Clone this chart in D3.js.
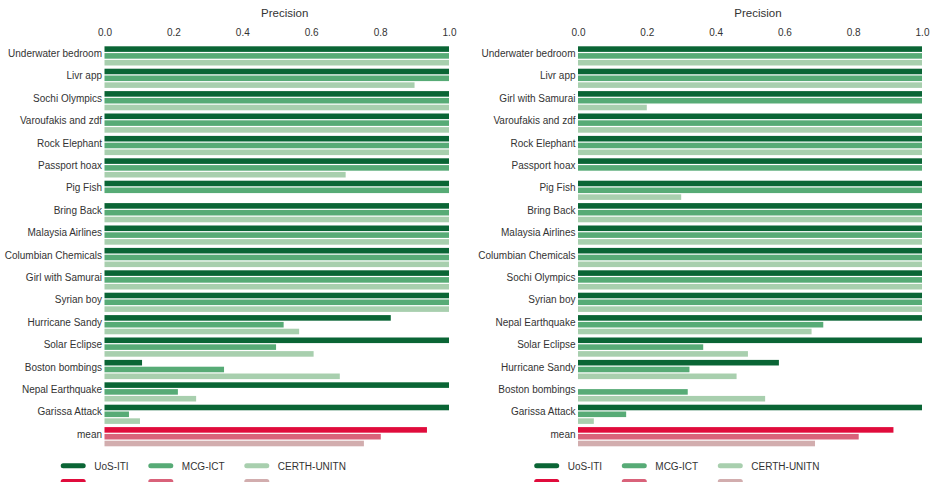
<!DOCTYPE html>
<html><head><meta charset="utf-8">
<script src="https://cdn.jsdelivr.net/npm/d3@7"></script>
<style>body{margin:0;background:#fff}svg{display:block}text{font-family:"Liberation Sans",Arial,sans-serif;fill:#333}</style>
</head><body><svg id="c" width="935" height="482"></svg>
<script>
const series = ["UoS-ITI", "MCG-ICT", "CERTH-UNITN"];
const xTicks = [0.0, 0.2, 0.4, 0.6, 0.8, 1.0];

const leftCats = ["Underwater bedroom","Livr app","Sochi Olympics","Varoufakis and zdf","Rock Elephant","Passport hoax","Pig Fish","Bring Back","Malaysia Airlines","Columbian Chemicals","Girl with Samurai","Syrian boy","Hurricane Sandy","Solar Eclipse","Boston bombings","Nepal Earthquake","Garissa Attack","mean"];
const leftUoS   = [1,1,1,1,1,1,1,1,1,1,1,1,0.831,1,0.109,1,1,0.936];
const leftMCG   = [1,1,1,1,1,1,1,1,1,1,1,1,0.520,0.498,0.347,0.213,0.071,0.802];
const leftCERTH = [1,0.9,1,1,1,0.7,0,1,1,1,1,1,0.565,0.607,0.683,0.266,0.103,0.753];

const rightCats = ["Underwater bedroom","Livr app","Girl with Samurai","Varoufakis and zdf","Rock Elephant","Passport hoax","Pig Fish","Bring Back","Malaysia Airlines","Columbian Chemicals","Sochi Olympics","Syrian boy","Nepal Earthquake","Solar Eclipse","Hurricane Sandy","Boston bombings","Garissa Attack","mean"];
const rightUoS   = [1,1,1,1,1,1,1,1,1,1,1,1,1,1,0.584,0,1,0.917];
const rightMCG   = [1,1,1,1,1,1,1,1,1,1,1,1,0.713,0.364,0.324,0.319,0.140,0.816];
const rightCERTH = [1,1,0.2,1,1,0,0.3,1,1,1,1,1,0.679,0.494,0.461,0.544,0.046,0.689];

const greens = ["#0a6535", "#57ab76", "#a8cfae"];
const reds = ["#e00c3c", "#d9627a", "#d2adae"];

const svg = d3.select("#c");

function panel(cats, vals, x0, x1) {
  const g = svg.append("g");
  const x = d3.scaleLinear().domain([0, 1]).range([x0, x1]);
  const y = d3.scaleBand().domain(cats).range([45.5, 45.5 + cats.length * 22.4]).padding(0);
  const ys = d3.scaleBand().domain(series).range([0.8, 20.0]).paddingInner(0.18).paddingOuter(0);

  g.append("text").attr("x", (x0 + x1) / 2 + 8).attr("y", 17).attr("text-anchor", "middle")
    .style("font-size", "11.5px").text("Precision");

  const ax = g.append("g").attr("transform", "translate(0,38)")
    .call(d3.axisTop(x).tickValues(xTicks).tickFormat(d3.format(".1f")).tickSize(0).tickPadding(0));
  ax.select(".domain").remove();
  ax.selectAll("text").style("font-size", "10px").attr("fill", "#333").attr("dy", "-0.2em");

  cats.forEach((c, i) => {
    const isMean = c === "mean";
    series.forEach((s, j) => {
      const v = vals[j][i];
      if (v > 0) {
        g.append("rect").attr("x", x(0)).attr("y", y(c) + ys(s))
          .attr("width", x(v) - x(0)).attr("height", ys.bandwidth())
          .attr("fill", isMean ? reds[j] : greens[j]);
      }
    });
    g.append("text").attr("x", x0 - 2.5).attr("y", y(c) + y.bandwidth() / 2 + 0.3)
      .attr("text-anchor", "end").style("font-size", "10px").text(c);
  });

  const lx = [x0 - 43.8, x0 + 43.8, x0 + 139.8];
  series.forEach((s, j) => {
    g.append("line").attr("x1", lx[j] + 2.5).attr("x2", lx[j] + 22.5).attr("y1", 465.8).attr("y2", 465.8)
      .attr("stroke", greens[j]).attr("stroke-width", 5).attr("stroke-linecap", "round");
    g.append("text").attr("x", lx[j] + 33.5).attr("y", 469.5).style("font-size", "10px").text(s);
    g.append("line").attr("x1", lx[j] + 2.5).attr("x2", lx[j] + 22.5).attr("y1", 481.6).attr("y2", 481.6)
      .attr("stroke", reds[j]).attr("stroke-width", 5).attr("stroke-linecap", "round");
  });
}

panel(leftCats, [leftUoS, leftMCG, leftCERTH], 104.5, 449);
panel(rightCats, [rightUoS, rightMCG, rightCERTH], 578, 922);
</script></body></html>
